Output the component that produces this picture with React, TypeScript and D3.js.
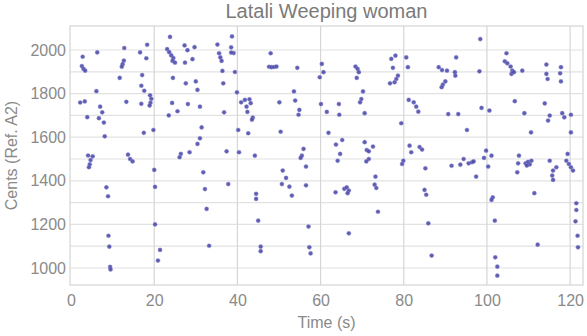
import React, { useRef, useEffect } from 'react';
import * as d3 from 'd3';

// pitch samples [time (s), cents], grouped by 20 s stretch
const seg0to20: [number, number][] = [
  [18.3, 2024], [12.8, 2009], [6.3, 1989], [2.8, 1969], [16.6, 1989], [18.1, 1962], [12.7, 1951],
  [12.4, 1935], [12.2, 1923], [2.6, 1926], [3.0, 1913], [3.4, 1905], [17.1, 1885], [11.7, 1872],
  [16.9, 1836], [17.6, 1813], [6.1, 1811], [19.0, 1792], [19.3, 1776], [19.1, 1758], [18.9, 1745],
  [2.2, 1759], [3.3, 1764], [13.3, 1762], [16.9, 1753], [7.0, 1740], [7.5, 1714], [3.9, 1692],
  [6.7, 1687], [7.9, 1667], [19.8, 1633], [17.5, 1620], [8.1, 1604], [4.1, 1516], [5.2, 1512],
  [4.7, 1495], [4.5, 1475], [4.3, 1462], [13.7, 1520], [14.2, 1500], [14.8, 1489], [8.5, 1370],
  [8.9, 1329], [9.0, 1148], [9.2, 1098], [9.4, 1005], [9.5, 993],
];

const seg20to40: [number, number][] = [
  [20.0, 1450], [20.2, 1372], [20.2, 1200], [21.4, 1083], [20.9, 1034], [23.8, 2060], [38.7, 2062],
  [27.3, 2021], [29.7, 2013], [35.2, 2025], [38.5, 2012], [28.0, 1999], [39.1, 1986], [38.5, 1988],
  [23.1, 2004], [23.6, 1990], [24.1, 1975], [24.6, 1963], [24.4, 1950], [25.0, 1942], [35.6, 1985],
  [35.9, 1966], [36.2, 1950], [29.2, 1958], [27.4, 1942], [36.4, 1904], [39.4, 1899], [24.5, 1872],
  [27.6, 1847], [30.0, 1856], [30.4, 1817], [36.6, 1847], [39.9, 1806], [24.3, 1757], [28.1, 1752],
  [31.0, 1740], [25.6, 1719], [23.5, 1700], [36.8, 1714], [31.4, 1645], [31.0, 1595], [30.4, 1569],
  [28.5, 1531], [26.4, 1523], [26.1, 1508], [37.4, 1535], [31.8, 1439], [32.2, 1362], [37.8, 1385],
  [32.6, 1271], [33.2, 1102],
];

const seg40to60: [number, number][] = [
  [40.2, 1633], [40.9, 1760], [40.4, 1531], [48.0, 1985], [47.6, 1923], [48.2, 1921], [48.8, 1922],
  [49.4, 1924], [54.4, 1918], [60.3, 1936], [60.7, 1898], [59.8, 1875], [53.6, 1810], [41.8, 1771],
  [42.9, 1774], [43.2, 1756], [42.2, 1740], [42.4, 1716], [50.1, 1760], [53.9, 1768], [54.9, 1725],
  [54.7, 1703], [60.1, 1752], [61.5, 1716], [43.7, 1690], [43.5, 1680], [42.6, 1618], [50.4, 1625],
  [61.9, 1620], [44.2, 1515], [55.9, 1546], [55.5, 1515], [55.2, 1505], [56.5, 1465], [50.9, 1447],
  [51.7, 1413], [50.7, 1385], [52.5, 1373], [56.5, 1379], [53.1, 1332], [44.5, 1340], [44.5, 1317],
  [45.0, 1217], [57.1, 1190], [45.6, 1098], [45.6, 1077], [57.3, 1095], [57.6, 1067],
];

const seg60to80: [number, number][] = [
  [77.0, 1959], [78.0, 1974], [80.6, 1966], [68.4, 1924], [68.9, 1913], [69.2, 1898], [68.7, 1872],
  [77.4, 1918], [81.0, 1921], [78.6, 1882], [78.2, 1867], [77.8, 1852], [76.7, 1847], [70.2, 1810],
  [69.8, 1775], [69.5, 1760], [64.4, 1752], [64.5, 1703], [70.6, 1710], [79.4, 1664], [65.2, 1587],
  [63.7, 1566], [64.7, 1523], [64.1, 1492], [70.6, 1577], [72.6, 1557], [71.1, 1541], [71.6, 1535],
  [71.6, 1500], [71.0, 1489], [79.9, 1492], [79.6, 1477], [73.2, 1419], [73.0, 1382], [73.4, 1367],
  [65.7, 1363], [66.3, 1370], [66.8, 1355], [66.5, 1343], [63.6, 1347], [73.8, 1258], [66.8, 1159],
];

const seg80to100: [number, number][] = [
  [81.2, 1771], [82.4, 1760], [83.0, 1740], [83.5, 1717], [81.4, 1561], [81.8, 1531], [83.8, 1555],
  [84.4, 1543], [98.4, 2050], [92.6, 1966], [88.4, 1921], [89.2, 1908], [90.4, 1905], [92.3, 1898],
  [92.4, 1882], [98.2, 1902], [90.0, 1856], [89.4, 1841], [89.1, 1829], [90.7, 1706], [93.1, 1706],
  [98.7, 1734], [100.6, 1722], [95.2, 1633], [85.2, 1457], [91.5, 1469], [93.6, 1474], [94.4, 1500],
  [95.6, 1480], [96.4, 1485], [96.8, 1489], [97.4, 1419], [99.3, 1505], [99.8, 1538], [101.1, 1515],
  [100.3, 1465], [85.0, 1358], [85.4, 1336], [101.4, 1324], [101.1, 1312], [85.9, 1205], [101.9, 1217],
  [86.7, 1057], [102.0, 1049], [102.5, 1006], [102.5, 965],
];

const seg100to123: [number, number][] = [
  [104.7, 1985], [104.3, 1948], [104.9, 1939], [105.7, 1924], [106.1, 1905], [105.9, 1890],
  [106.5, 1898], [108.5, 1905], [114.3, 1933], [114.3, 1890], [114.6, 1867], [117.8, 1921],
  [117.6, 1893], [117.8, 1856], [106.7, 1765], [113.9, 1755], [109.0, 1710], [115.1, 1699],
  [114.7, 1676], [118.1, 1710], [118.6, 1691], [120.2, 1703], [110.6, 1622], [120.2, 1622],
  [107.7, 1515], [107.5, 1480], [107.3, 1439], [109.3, 1480], [109.9, 1487], [110.3, 1475],
  [110.7, 1492], [109.6, 1470], [115.1, 1492], [116.7, 1462], [115.9, 1447], [115.7, 1424],
  [115.9, 1404], [119.4, 1523], [119.1, 1492], [119.7, 1477], [120.2, 1462], [120.7, 1447],
  [111.4, 1343], [121.5, 1297], [121.5, 1266], [121.3, 1214], [121.8, 1148], [121.9, 1095],
  [112.2, 1107],
];

const xTicks = [0, 20, 40, 60, 80, 100, 120];
const yTicks = [1000, 1200, 1400, 1600, 1800, 2000];
const yGrid = [1000, 1100, 1200, 1300, 1400, 1500, 1600, 1700, 1800, 1900, 2000];

const title = 'Latali Weeping woman';
const xLabel = 'Time (s)';
const yLabel = 'Cents (Ref. A2)';

export default function App() {
  const svgRef = useRef<SVGSVGElement>(null);
  const width = 587;
  const height = 336;

  useEffect(() => {
    const svg = d3.select(svgRef.current);
    svg.selectAll('*').remove();

    const left = 70, right = 583, top = 26, bottom = 285;
    const font = 'Liberation Sans, Arial, sans-serif';

    const x = d3.scaleLinear().domain([-0.25, 123.1]).range([left, right]);
    const y = d3.scaleLinear().domain([922, 2110]).range([bottom, top]);

    const g = svg.append('g');

    // grid
    g.selectAll('.hgrid')
      .data(yGrid)
      .join('line')
      .attr('x1', left).attr('x2', right)
      .attr('y1', d => y(d)).attr('y2', d => y(d))
      .attr('stroke', '#e2e2e2')
      .attr('stroke-width', 1.2);

    g.selectAll('.vgrid')
      .data(xTicks.filter(d => d > 0))
      .join('line')
      .attr('x1', d => x(d)).attr('x2', d => x(d))
      .attr('y1', top).attr('y2', bottom)
      .attr('stroke', '#d6d6d6')
      .attr('stroke-width', 1.2);

    g.append('rect')
      .attr('x', left).attr('y', top)
      .attr('width', right - left).attr('height', bottom - top)
      .attr('fill', 'none')
      .attr('stroke', '#d4d4d4')
      .attr('stroke-width', 1.2);

    // axes (labels only, lines drawn by the frame)
    const xAxis = d3.axisBottom(x).tickValues(xTicks).tickSize(0).tickPadding(10).tickFormat(d3.format('d'));
    const xa = g.append('g').attr('transform', `translate(0,${bottom})`).call(xAxis);
    xa.select('.domain').remove();
    xa.attr('font-family', font).attr('font-size', 16);
    xa.selectAll('text').attr('fill', '#8a8a8a');

    const yAxis = d3.axisLeft(y).tickValues(yTicks).tickSize(0).tickPadding(4).tickFormat(d3.format('d'));
    const ya = g.append('g').attr('transform', `translate(${left},0)`).call(yAxis);
    ya.select('.domain').remove();
    ya.attr('font-family', font).attr('font-size', 16);
    ya.selectAll('text').attr('fill', '#8a8a8a');

    // points
    const all = [...seg0to20, ...seg20to40, ...seg40to60, ...seg60to80, ...seg80to100, ...seg100to123];
    g.append('g')
      .selectAll('circle')
      .data(all)
      .join('circle')
      .attr('cx', d => x(d[0]))
      .attr('cy', d => y(d[1]))
      .attr('r', 2.1)
      .attr('fill', '#4342a6')
      .attr('fill-opacity', 0.85)
      .attr('stroke', '#9a98d8')
      .attr('stroke-opacity', 0.5)
      .attr('stroke-width', 0.8);

    // titles
    svg.append('text')
      .attr('x', (left + right) / 2).attr('y', 18)
      .attr('text-anchor', 'middle')
      .attr('fill', '#7a7a7a')
      .attr('font-family', font).attr('font-size', 20)
      .text(title);

    svg.append('text')
      .attr('x', (left + right) / 2).attr('y', 328)
      .attr('text-anchor', 'middle')
      .attr('fill', '#8a8a8a')
      .attr('font-family', font).attr('font-size', 16)
      .text(xLabel);

    svg.append('text')
      .attr('transform', `translate(17,${(top + bottom) / 2}) rotate(-90)`)
      .attr('text-anchor', 'middle')
      .attr('fill', '#8a8a8a')
      .attr('font-family', font).attr('font-size', 16)
      .text(yLabel);
  }, []);

  return (
    <svg
      ref={svgRef}
      width={width}
      height={height}
      style={{ position: 'absolute', left: 0, top: 0, background: '#fff' }}
    ></svg>
  );
}
